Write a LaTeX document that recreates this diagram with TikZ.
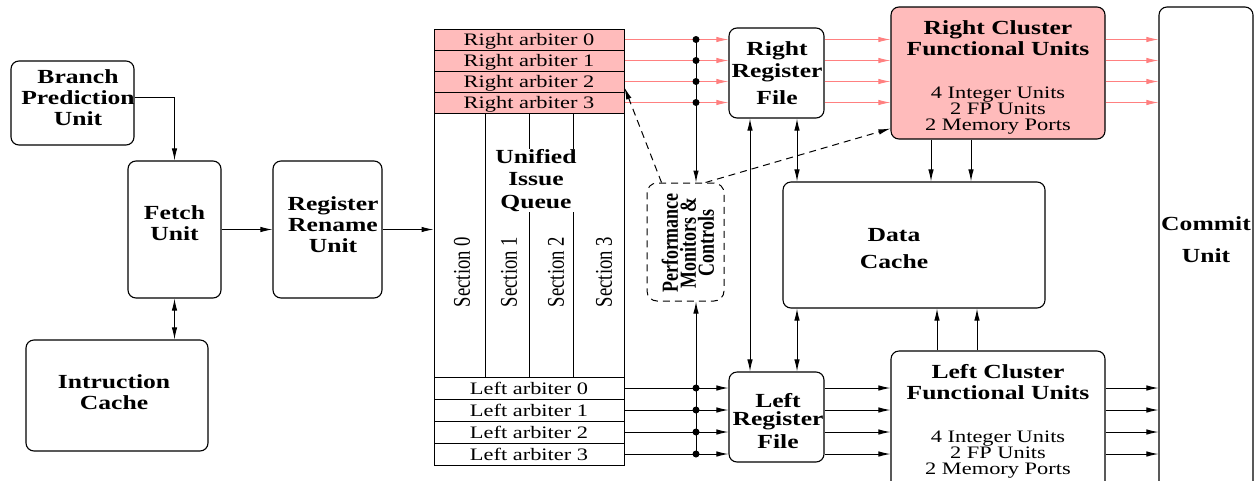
\documentclass[tikz,border=0pt]{standalone}
\usepackage{fontspec}
\setmainfont[FakeStretch=1.28]{Liberation Serif}
\newfontfamily\sidefont[FakeStretch=0.78]{Liberation Serif}
\usepackage{tikz}
\usetikzlibrary{arrows.meta}

\definecolor{clpink}{RGB}{255,187,187}
\definecolor{linkpink}{RGB}{255,128,128}
\newcommand{\bfl}{\fontsize{20}{21}\selectfont\bfseries}
\newcommand{\rml}{\fontsize{17.5}{16}\selectfont}

\tikzset{
  unit/.style={draw, line width=1.1pt, rounded corners=8pt, inner sep=0pt},
  lbl/.style={font=\bfl, align=center, inner sep=0pt},
  txt/.style={font=\rml, align=center, inner sep=0pt},
  arb/.style={draw, line width=1pt, minimum width=190pt, minimum height=21pt, inner sep=0pt,
    text height=14pt, text depth=2pt, font=\rml},
  side/.style={font=\sidefont\fontsize{24}{18}\selectfont, inner sep=0pt},
  sidebf/.style={font=\sidefont\fontsize{23}{18}\selectfont\bfseries, align=center, inner sep=0pt},
  flow/.style={-{Latex[length=12pt,width=5.5pt]}, line width=1pt},
  dflow/.style={{Latex[length=12pt,width=5.5pt]}-{Latex[length=12pt,width=5.5pt]}, line width=1pt},
  rflow/.style={flow, draw=linkpink},
  dot/.style={circle, fill, inner sep=0pt, minimum size=7pt},
}

\begin{document}
\begin{tikzpicture}[x=1pt,y=-1pt]
\useasboundingbox (0,0) rectangle (1260,480);
\clip (0,0) rectangle (1260,480);

% front end
\draw (72.5,103) node[unit,minimum width=123pt,minimum height=84pt] (bpu) {};
\draw (78,97.5) node[lbl] (bput) {Branch\\Prediction\\Unit};
\draw (174.5,229.5) node[unit,minimum width=93pt,minimum height=137pt] (fetch) {};
\draw (174.5,223.5) node[lbl] (fetcht) {Fetch\\Unit};
\draw (327.5,229.5) node[unit,minimum width=109pt,minimum height=137pt] (ren) {};
\draw (333,224.5) node[lbl] (rent) {Register\\Rename\\Unit};
\draw (117,395.5) node[unit,minimum width=182pt,minimum height=111pt] (ic) {};
\draw (114,392.5) node[lbl] (ict) {Intruction\\Cache};

  \draw[flow] ([yshift=6pt]bpu.east) -| (fetch.north);
  \path[flow] (fetch) edge (ren);
  \draw[dflow] (fetch.south) -- (fetch.south |- ic.north);

% issue queue with its arbiters
\foreach \i/\y in {0/39.5,1/60.5,2/81.5,3/102.5}
  \draw (529,\y) node[arb,fill=clpink] (ra\i) {Right arbiter \i};
\draw (529,245) node[draw,line width=1pt,minimum width=190pt,minimum height=264pt] (iq) {};
\foreach \i/\y in {0/388,1/410,2/432,3/454}
  \draw (529,\y) node[arb,minimum height=22pt] (la\i) {Left arbiter \i};
\foreach \x in {485,529,573}
  \draw[line width=1pt] (\x,113) -- (\x,377);
\foreach \i/\x in {0/462,1/509,2/556,3/604}
  \draw (\x,272) node[side,rotate=90] (sec\i) {Section \i};
\draw (536,180.5) node[lbl,fill=white] (iqt) {Unified\\[1.5pt]Issue\\[1.5pt]Queue};
  \draw[flow] (ren.east) -- (ren.east -| iq.west);

% monitors
\draw (685.5,242) node[draw,line width=1pt,dash pattern=on 7pt off 5pt,rounded corners=10pt,minimum width=77pt,minimum height=118pt] (pmc) {};
\draw (688,243) node[sidebf,rotate=90] (pmct) {Performance\\Monitors \&\\Controls};
\coordinate (bus) at (696,0);

% register files, clusters, cache, commit
\draw (776.5,73) node[unit,minimum width=95pt,minimum height=90pt] (rrf) {};
\draw (777,73) node[lbl] (rrft) {Right\\[1pt]Register\\[6pt]File};
\draw (776.5,417) node[unit,minimum width=95pt,minimum height=90pt] (lrf) {};
\draw (778,421.5) node[lbl] (lrft) {Left\\[-3pt]Register\\[2pt]File};

\draw (998,73) node[unit,fill=clpink,minimum width=214pt,minimum height=132pt] (rcf) {};
\draw (998,38.5) node[lbl] (rcft) {Right Cluster\\Functional Units};
\draw (998,111) node[txt] (rcfu) {4 Integer Units\\2 FP Units\\2 Memory Ports};
\draw (998,435.5) node[unit,minimum width=214pt,minimum height=169pt] (lcf) {};
\draw (998,382) node[lbl] (lcft) {Left Cluster\\Functional Units};
\draw (998,454.5) node[txt] (lcfu) {4 Integer Units\\2 FP Units\\2 Memory Ports};

\draw (914,245) node[unit,minimum width=262pt,minimum height=126pt] (dc) {};
\draw (894,249) node[lbl] (dct) {Data\\[6pt]Cache};
\draw (1206,263.5) node[unit,minimum width=94pt,minimum height=513pt] (cu) {};
\draw (1206,240) node[lbl] (cut) {Commit\\[11pt]Unit};

% issue lanes
\foreach \i in {0,...,3} {
  \draw[rflow] (ra\i.east) -- (ra\i.east -| rrf.west);
  \draw[rflow] (ra\i.east -| rrf.east) -- (ra\i.east -| rcf.west);
  \draw[rflow] (ra\i.east -| rcf.east) -- (ra\i.east -| cu.west);
  \draw[flow] (la\i.east) -- (la\i.east -| lrf.west);
  \draw[flow] (la\i.east -| lrf.east) -- (la\i.east -| lcf.west);
  \draw[flow] (la\i.east -| lcf.east) -- (la\i.east -| cu.west);
  \node[dot] (rd\i) at (ra\i.east -| bus) {};
  \node[dot] (ld\i) at (la\i.east -| bus) {};
}
  \draw[flow] (rd0.center) -- (rd0 |- pmc.north);
  \draw[flow] (ld3.center) -- (ld3 |- pmc.south);
  \draw[flow,dash pattern=on 7pt off 5pt] ([xshift=15pt]pmc.north west) -- ([yshift=4pt]ra3.north east);
  \draw[flow,dash pattern=on 7pt off 5pt] ([xshift=-19pt]pmc.north east) -- ([yshift=11pt]rcf.south west);

% register file and cache ports
\coordinate (rfx) at (750,0);
\coordinate (dcx) at (797,0);
  \draw[dflow] (rrf.south -| rfx) -- (lrf.north -| rfx);
  \draw[dflow] (rrf.south -| dcx) -- (dc.north -| dcx);
  \draw[dflow] (dc.south -| dcx) -- (lrf.north -| dcx);
\foreach \x in {931,971}
  \draw[flow] (rcf.south -| \x,0) -- (dc.north -| \x,0);
\foreach \x in {937,977}
  \draw[flow] (lcf.north -| \x,0) -- (dc.south -| \x,0);

\end{tikzpicture}
\end{document}
